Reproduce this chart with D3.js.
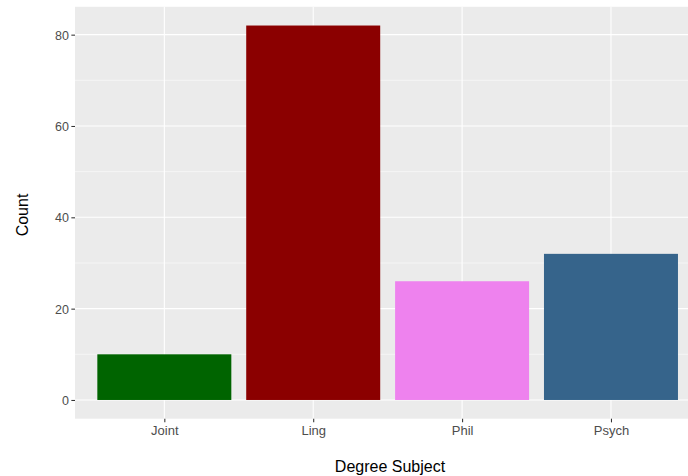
<!DOCTYPE html>
<html>
<head>
<meta charset="utf-8">
<script src="https://cdn.jsdelivr.net/npm/d3@7"></script>
<style>
html,body{margin:0;padding:0;background:#fff;overflow:hidden;}
svg{display:block;font-family:"Liberation Sans",Arial,Helvetica,sans-serif;}
</style>
</head>
<body>
<svg id="chart" width="688" height="476"></svg>
<script>
const categories = ["Joint", "Ling", "Phil", "Psych"];
const counts = [10, 82, 26, 32];
const colors = ["#006400", "#8B0000", "#EE82EE", "#36648B"];
const yTicks = [0, 20, 40, 60, 80];
const yMinor = [10, 30, 50, 70];
const xTitle = "Degree Subject";
const yTitle = "Count";

const svg = d3.select("#chart");
const panel = {left: 75, right: 700.3, top: 6.8, bottom: 418.7};

const n = categories.length;
const step = (panel.right - panel.left) / (n - 1 + 1.2);
// ggplot places centres at 0.6 step from edge, bar width 0.9 step
const xc = c => panel.left + step * (0.6 + categories.indexOf(c));
const maxV = d3.max(counts);
const y = d3.scaleLinear().domain([-0.05 * maxV, maxV * 1.05]).range([panel.bottom, panel.top]);

svg.append("rect").attr("x", panel.left).attr("y", panel.top)
  .attr("width", panel.right - panel.left).attr("height", panel.bottom - panel.top)
  .attr("fill", "#EBEBEB");

const g = svg.append("g");
g.selectAll(".minor").data(yMinor).enter().append("line")
  .attr("x1", panel.left).attr("x2", panel.right)
  .attr("y1", d => y(d)).attr("y2", d => y(d))
  .attr("stroke", "#fff").attr("stroke-width", 0.53);
g.selectAll(".major").data(yTicks).enter().append("line")
  .attr("x1", panel.left).attr("x2", panel.right)
  .attr("y1", d => y(d)).attr("y2", d => y(d))
  .attr("stroke", "#fff").attr("stroke-width", 1.07);
g.selectAll(".vmajor").data(categories).enter().append("line")
  .attr("x1", d => xc(d)).attr("x2", d => xc(d))
  .attr("y1", panel.top).attr("y2", panel.bottom)
  .attr("stroke", "#fff").attr("stroke-width", 1.07);

g.selectAll(".bar").data(categories).enter().append("rect")
  .attr("x", d => xc(d) - 0.45 * step)
  .attr("width", 0.9 * step)
  .attr("y", (d, i) => y(counts[i]))
  .attr("height", (d, i) => y(0) - y(counts[i]))
  .attr("fill", (d, i) => colors[i]);

// y axis
const yAxis = d3.axisLeft(y).tickValues(yTicks).tickSize(3.65).tickPadding(2.4);
const ya = svg.append("g").attr("transform", `translate(${panel.left},0)`).call(yAxis);
ya.select(".domain").remove();
ya.selectAll(".tick line").attr("stroke", "#333333").attr("stroke-width", 1.07);
ya.selectAll(".tick text").attr("fill", "#4D4D4D").style("font-size", "12.5px")
  .attr("dy", "0.36em");

// x axis
const xScalePts = d3.scalePoint().domain(categories).range([xc(categories[0]), xc(categories[n - 1])]);
const xAxis = d3.axisBottom(xScalePts).tickSize(3.65).tickPadding(3.4);
const xa = svg.append("g").attr("transform", `translate(0,${panel.bottom})`).call(xAxis);
xa.select(".domain").remove();
xa.selectAll(".tick line").attr("stroke", "#333333").attr("stroke-width", 1.07);
xa.selectAll(".tick text").attr("fill", "#4D4D4D").style("font-size", "13px");

svg.append("text").attr("x", 390).attr("y", 472.3)
  .attr("text-anchor", "middle").style("font-size", "16px").attr("fill", "#000")
  .text(xTitle);
svg.append("text")
  .attr("transform", `translate(27.8,215) rotate(-90)`)
  .attr("text-anchor", "middle").style("font-size", "16px").attr("fill", "#000")
  .text(yTitle);
</script>
</body>
</html>
